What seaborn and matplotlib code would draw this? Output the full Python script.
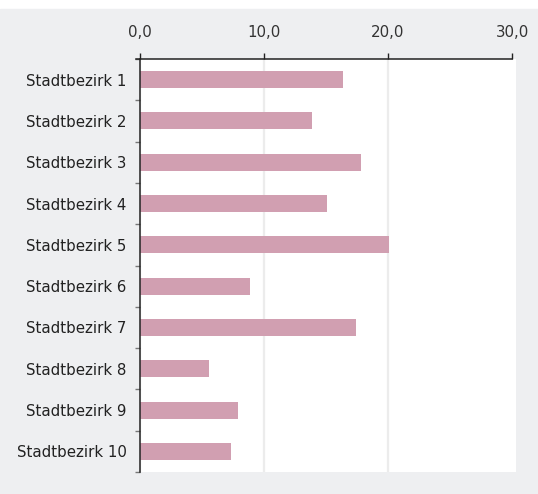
import matplotlib
matplotlib.use("Agg")
import matplotlib.pyplot as plt
import matplotlib.patches as mpatches
from matplotlib.ticker import FixedLocator, FuncFormatter
import seaborn as sns
import pandas as pd

districts = [f"Stadtbezirk {i}" for i in range(1, 11)]
values = [16.4, 13.9, 17.8, 15.1, 20.1, 8.85, 17.4, 5.6, 7.9, 7.3]
x_ticks = [0, 10, 20, 30]

bar_color = "#d19fb1"
panel_gray = "#eeeff1"

sns.set_style("white")
plt.rcParams["font.family"] = ["DejaVu Sans"]

df = pd.DataFrame({"district": districts, "value": values})

fig = plt.figure(figsize=(5.38, 4.94), dpi=100, facecolor="white")
fig.patches.append(mpatches.Rectangle((0, 0), 1, 485 / 494, transform=fig.transFigure,
                                      color=panel_gray, zorder=-10))
ax = fig.add_axes([140 / 538, 22 / 494, 376 / 538, 413 / 494])
ax.set_zorder(5)
ax.set_facecolor("white")

sns.barplot(data=df, x="value", y="district", orient="h", color=bar_color,
            saturation=1, width=0.41, linewidth=0, ax=ax)

ax.set_xlim(0, 30.32)
ax.set_ylim(9.5, -0.5)
ax.xaxis.set_major_locator(FixedLocator(x_ticks))
ax.xaxis.set_major_formatter(FuncFormatter(lambda v, p: f"{v:.1f}".replace(".", ",")))
ax.xaxis.tick_top()
ax.grid(axis="x", color="#ececec", linewidth=1.6)
ax.set_axisbelow(True)
ax.xaxis.get_gridlines()[-1].set_visible(False)

for side in ["right", "bottom"]:
    ax.spines[side].set_visible(False)
for side in ["top", "left"]:
    ax.spines[side].set_color("#222222")
    ax.spines[side].set_linewidth(1.1)
ax.spines["top"].set_bounds(-0.3, 30)

ax.tick_params(axis="x", which="major", top=True, length=4, width=1, color="#222222",
               pad=10, labelsize=10.8, labelcolor="#333333")
ax.tick_params(axis="y", which="major", left=False, length=0, pad=9.5,
               labelsize=10.8, labelcolor="#222222")
ax.yaxis.set_minor_locator(FixedLocator([i - 0.5 for i in range(11)]))
ax.tick_params(axis="y", which="minor", left=True, length=3.6, width=1, color="#777777")

ax.set_xlabel("")
ax.set_ylabel("")

fig.savefig("out.png", dpi=100, facecolor=fig.get_facecolor())
